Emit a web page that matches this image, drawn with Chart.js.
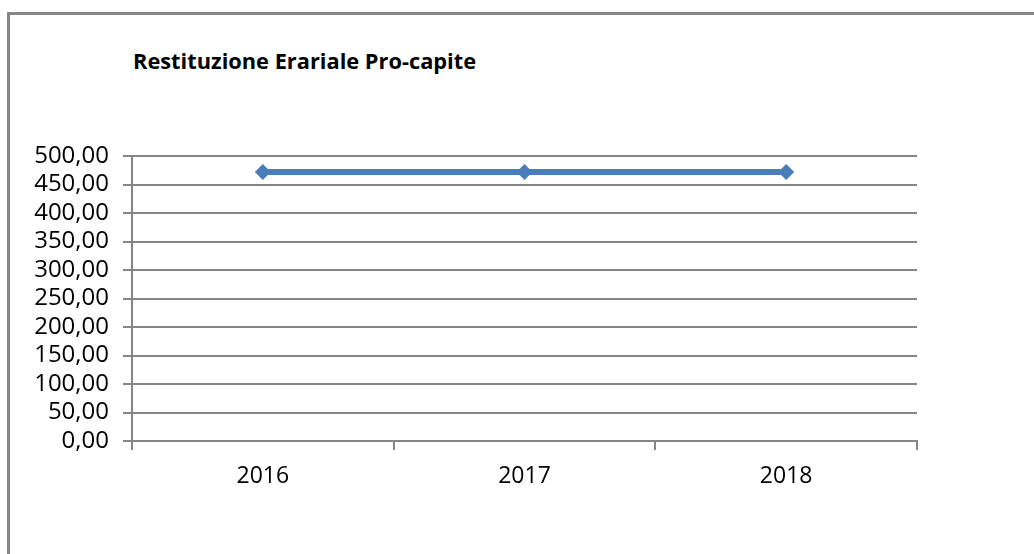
<!DOCTYPE html>
<html>
<head>
<meta charset="utf-8">
<script src="https://cdn.jsdelivr.net/npm/chart.js@4"></script>
<style>
  html, body { margin: 0; padding: 0; background: #fff; overflow: hidden; }
  #frame { position: absolute; left: 7px; top: 12px; width: 2000px; height: 2000px;
           border-top: 3px solid #868686; border-left: 3px solid #868686; }
  #title { position: absolute; left: 133px; top: 46px; font-family: "Open Sans", sans-serif;
           font-weight: bold; font-size: 21.8px; color: #000; white-space: nowrap; }
  #wrap { position: absolute; left: 0; top: 0; width: 1034px; height: 554px; }
</style>
</head>
<body>
<div id="frame"></div>
<div id="title">Restituzione Erariale Pro-capite</div>
<div id="wrap"><canvas id="chart" width="1034" height="554"></canvas></div>
<script>
var years = ['2016', '2017', '2018'];
var restituzione = [472, 472, 472];
var yMin = 0;
var yMax = 500;
var yStep = 50;

var gridColor = '#868686';
var ctx = document.getElementById('chart').getContext('2d');

var chart = new Chart(ctx, {
    type: 'line',
    data: {
        labels: years,
        datasets: [{
            label: 'Restituzione Erariale Pro-capite',
            data: restituzione,
            borderColor: '#4A7EBB',
            backgroundColor: '#4A7EBB',
            borderWidth: 6,
            pointStyle: 'rectRot',
            pointRadius: 8,
            pointBorderWidth: 0,
            fill: false,
            tension: 0
        }]
    },
    options: {
        responsive: false,
        animation: false,
        layout: { padding: { left: 0, top: 156, right: 117, bottom: 53 } },
        plugins: {
            legend: { display: false },
            title: { display: false },
            tooltip: { enabled: false }
        },
        scales: {
            x: {
                offset: true,
                grid: {
                    offset: true,
                    drawOnChartArea: false,
                    drawTicks: true,
                    tickLength: 9,
                    color: gridColor,
                    lineWidth: 2
                },
                border: { display: true, color: gridColor, width: 2 },
                ticks: {
                    color: '#000',
                    padding: 13,
                    font: { family: 'Open Sans', size: 23 }
                },
                afterFit: function (scale) { scale.height = 60; }
            },
            y: {
                min: yMin,
                max: yMax,
                grid: {
                    color: gridColor,
                    lineWidth: 2,
                    drawTicks: true,
                    tickLength: 9
                },
                border: { display: true, color: gridColor, width: 2 },
                ticks: {
                    stepSize: yStep,
                    autoSkip: false,
                    color: '#000',
                    padding: 14,
                    font: { family: 'Open Sans', size: 24 },
                    callback: function (v) { return v.toFixed(2).replace('.', ','); }
                },
                afterFit: function (scale) { scale.width = 132; }
            }
        }
    }
});
</script>
</body>
</html>
